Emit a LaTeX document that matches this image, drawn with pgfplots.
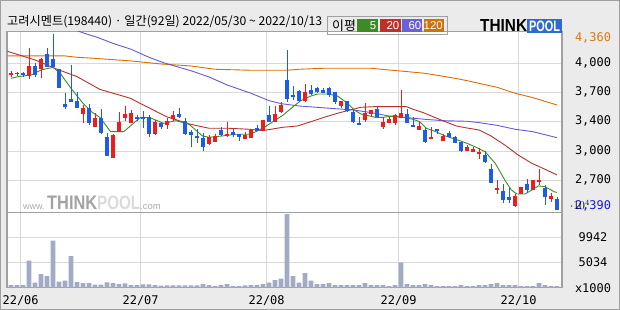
\documentclass[border=0pt]{standalone}
\usepackage{fontspec}
\usepackage{pgfplots}
\usepackage{pgfplotstable}
\pgfplotsset{compat=1.18}
\setmainfont{Noto Sans CJK KR}
\newfontfamily\krfont{Noto Sans CJK KR}
\newfontfamily\numfont{DejaVu Sans Mono}
\newfontfamily\logofont{Liberation Sans}

\definecolor{bgc}{HTML}{EBEBEB}
\definecolor{bordc}{HTML}{A0A0A0}
\definecolor{gridc}{HTML}{D9D9D9}
\definecolor{upc}{HTML}{EE1C1C}
\definecolor{dnc}{HTML}{1F5CE6}
\definecolor{maA}{HTML}{3A8F1E}
\definecolor{maB}{HTML}{B8312F}
\definecolor{maC}{HTML}{6A5ACD}
\definecolor{maD}{HTML}{DB6E00}
\definecolor{volc}{HTML}{A3ABC4}
\definecolor{labor}{HTML}{D9781A}
\definecolor{labbl}{HTML}{1A1ADC}
\definecolor{logoblue}{HTML}{2D6BD0}
\definecolor{lgA}{HTML}{3C8A28}
\definecolor{lgB}{HTML}{C0302A}
\definecolor{lgC}{HTML}{6A60D8}
\definecolor{lgD}{HTML}{D2700A}

\pgfplotstableread{
i o h l c
0 3899 3943 3884 3928
3 3895 4200 3861 4003
5 3973 4092 3873 4077
12 3463 3567 3363 3538
14 3325 3474 3325 3426
17 2972 3243 2972 3232
18 3266 3485 3266 3374
19 3418 3556 3392 3467
20 3363 3511 3363 3474
24 3243 3400 3236 3377
26 3344 3418 3299 3392
27 3407 3504 3392 3456
33 3128 3228 3121 3206
34 3158 3243 3158 3221
36 3221 3377 3214 3243
39 3191 3266 3191 3228
40 3202 3288 3202 3288
42 3281 3400 3281 3400
44 3381 3556 3381 3467
45 3493 3605 3482 3567
49 3616 3802 3605 3712
55 3556 3612 3530 3612
59 3400 3586 3381 3474
60 3467 3511 3429 3511
62 3318 3429 3299 3374
63 3370 3437 3370 3411
64 3370 3467 3344 3456
65 3418 3735 3418 3478
68 3288 3381 3288 3333
70 3191 3325 3191 3210
72 3169 3243 3169 3221
76 3057 3121 3057 3102
77 3046 3102 3046 3072
78 3024 3083 2968 3046
81 2625 2730 2577 2640
84 2439 2573 2432 2555
85 2573 2655 2573 2655
87 2618 2730 2618 2730
88 2707 2856 2670 2730
90 2514 2581 2488 2555
}\upT

\pgfplotstableread{
i o h l c
1 3928 3940 3891 3910
2 3921 3936 3876 3902
4 4003 4033 3884 3906
6 4137 4204 3988 3995
7 4081 4360 3988 3995
8 3966 3966 3761 3761
9 3578 3698 3526 3549
10 3634 4014 3597 3597
11 3612 3712 3538 3538
13 3530 3578 3340 3370
15 3418 3523 3243 3251
16 3206 3251 2998 2998
21 3433 3456 3392 3418
22 3433 3500 3310 3418
23 3433 3456 3214 3243
25 3370 3381 3303 3325
28 3463 3538 3418 3429
29 3392 3418 3236 3247
30 3269 3288 3102 3232
31 3221 3296 3147 3202
32 3202 3251 3057 3102
35 3288 3325 3221 3232
37 3266 3296 3214 3229
38 3243 3243 3169 3214
41 3310 3344 3281 3281
43 3456 3556 3381 3381
46 3847 4182 3605 3638
47 3679 3780 3623 3660
48 3724 3735 3605 3612
50 3735 3791 3679 3690
51 3757 3772 3705 3712
52 3735 3753 3698 3705
53 3757 3772 3660 3679
54 3712 3712 3578 3605
56 3612 3612 3493 3500
57 3493 3511 3370 3377
58 3370 3437 3340 3340
61 3526 3549 3429 3429
66 3467 3523 3370 3370
67 3344 3429 3325 3325
69 3288 3307 3147 3158
71 3292 3303 3243 3284
73 3251 3277 3214 3214
74 3210 3221 3139 3147
75 3154 3154 3046 3057
79 3009 3054 2923 2931
80 2853 2905 2700 2700
82 2607 2685 2469 2506
83 2536 2637 2469 2506
86 2685 2737 2581 2618
89 2640 2677 2454 2543
91 2517 2543 2390 2395
}\dnT

\pgfplotstableread{
i v
0 524
1 524
2 524
3 5300
4 981
5 2683
6 2290
7 9226
8 1178
9 1374
10 6216
11 1112
12 916
13 916
14 589
15 589
16 1047
17 916
18 720
19 850
20 524
21 524
22 654
23 654
24 524
25 393
26 458
27 458
28 458
29 458
30 458
31 458
32 720
33 524
34 327
35 524
36 720
37 327
38 327
39 458
40 524
41 524
42 720
43 981
44 1505
45 1767
46 14466
47 2290
48 981
49 2879
50 1374
51 720
52 720
53 916
54 524
55 524
56 524
57 524
58 524
59 916
60 524
61 524
62 524
63 327
64 524
65 4908
66 720
67 524
68 524
69 720
70 524
71 327
72 327
73 327
74 327
75 524
76 327
77 327
78 524
79 524
80 720
81 916
82 524
83 524
84 524
85 327
86 327
87 327
88 916
89 524
90 327
91 327
}\volT

\pgfplotsset{
  chartbase/.style={
    scale only axis, width=555bp,
    xmin=-0.667, xmax=91.833,
    axis background/.style={fill=white},
    axis line style={bordc, line width=1.2bp},
    grid style={gridc, line width=0.9bp},
    major tick length=0pt,
    xmajorgrids, ymajorgrids,
    xtick={1.6,21.6,42.6,64.6,84.6},
    yticklabel pos=right,
    tick label style={font=\numfont\fontsize{12}{12}\selectfont},
    yticklabel style={anchor=center, xshift=31bp},
    clip mode=individual,
  },
  wick/.style={draw=none, mark=none, forget plot,
    error bars/.cd, y dir=both, y explicit, error mark=none,
    error bar style={draw=#1, line width=1bp}},
  body/.style={draw=none, mark=none, forget plot,
    error bars/.cd, y dir=both, y explicit, error mark=none,
    error bar style={draw=#1, line width=4.6bp}},
}

\begin{document}
\begin{tikzpicture}
\useasboundingbox (0,0) rectangle (620bp,310bp);
\fill[bgc] (0,0) rectangle (620bp,310bp);
\draw[bordc, line width=1bp] (0.5bp,0.5bp) rectangle (619.5bp,309.5bp);

% price panel
\begin{axis}[chartbase,
  at={(7bp,97.7bp)}, anchor=south west, height=180.6bp,
  ymin=2368.4, ymax=4385.7,
  xticklabels={},
  ytick={2729.2,3053.1,3388.2,3708.8,4032.7},
  yticklabels={{2,700},{3,000},{3,400},{3,700},{4,000}},
  extra y ticks={2442,4312},
  extra y tick labels={{\textcolor{labbl}{2,390}},{\textcolor{labor}{4,360}}},
  extra y tick style={grid=none},
]
\addplot[maD, line width=0.9bp] coordinates {(-0.6,4115)(9,4115)(11,4100)(14,4088)(20,4059)(25,4025)(30,4003)(34,3966)(40,3955)(46,3955)(48,3966)(52,3977)(60,3977)(63,3958)(66,3940)(69,3921)(71,3899)(74,3865)(76,3839)(78,3809)(81,3765)(84,3698)(87,3649)(91,3567)};
\addplot[maC, line width=0.9bp] coordinates {(10,4420)(12.6,4360)(14.3,4325)(17,4255)(20,4190)(23,4100)(25.4,4040)(28,3988)(30,3950)(33,3880)(36,3791)(40,3698)(43,3616)(45,3582)(48,3556)(51,3541)(54,3526)(57,3512)(60,3482)(63,3444)(66,3426)(69,3407)(72,3392)(76,3385)(78,3370)(81,3340)(84,3296)(87,3269)(91,3202)};
\addplot[maB, line width=0.9bp] coordinates {(-0.6,4167)(4,4070)(7.7,3966)(11,3884)(14.8,3742)(19.9,3642)(21.5,3586)(25.9,3437)(29.7,3355)(33,3307)(36.3,3307)(39.7,3296)(42,3281)(45.3,3318)(47.8,3333)(50,3381)(52.2,3430)(54.4,3474)(56.1,3504)(58.3,3541)(60.7,3549)(65.9,3549)(67,3519)(68.7,3482)(71.4,3407)(74.2,3333)(76,3310)(78,3288)(80,3221)(82.3,3120)(84.5,3009)(86.8,2916)(89,2849)(91,2786)};
\addplot[maA, line width=0.9bp] coordinates {(0,3865)(1.2,3884)(3.4,3902)(5,3958)(7,3988)(8.2,3921)(10,3753)(12,3586)(13.4,3493)(14.8,3429)(16.6,3269)(18.8,3269)(20.4,3362)(21.6,3429)(23.3,3422)(25.4,3362)(27.5,3392)(29.7,3351)(31.9,3221)(33,3206)(35.2,3221)(37.4,3240)(39.7,3240)(40.8,3269)(42.4,3325)(44.1,3400)(45.3,3452)(46.7,3530)(48.3,3616)(50,3668)(51.1,3690)(52.8,3690)(54.4,3668)(56.1,3586)(57.2,3511)(58.3,3467)(60.7,3429)(62,3429)(63.7,3444)(65.3,3429)(67,3407)(68.1,3381)(69.2,3307)(70.8,3269)(72.4,3221)(74.1,3184)(76,3139)(77.3,3102)(79,3046)(80.7,2916)(82.3,2729)(83.4,2618)(84.3,2573)(85.7,2573)(86.8,2618)(87.9,2663)(89,2655)(90.5,2599)(91,2590)};
\addplot[wick=upc] table[x=i, y expr={(\thisrow{h}+\thisrow{l})/2}, y error expr={(\thisrow{h}-\thisrow{l})/2}] {\upT};
\addplot[body=upc] table[x=i, y expr={(\thisrow{o}+\thisrow{c})/2}, y error expr={max(abs(\thisrow{o}-\thisrow{c})/2,7)}] {\upT};
\addplot[wick=dnc] table[x=i, y expr={(\thisrow{h}+\thisrow{l})/2}, y error expr={(\thisrow{h}-\thisrow{l})/2}] {\dnT};
\addplot[body=dnc] table[x=i, y expr={(\thisrow{o}+\thisrow{c})/2}, y error expr={max(abs(\thisrow{o}-\thisrow{c})/2,7)}] {\dnT};
\end{axis}

% volume panel
\begin{axis}[chartbase,
  at={(7bp,22.3bp)}, anchor=south west, height=75.4bp,
  ymin=0, ymax=14800,
  xticklabels={22/06,22/07,22/08,22/09,22/10},
  xticklabel style={anchor=center, yshift=-12.5bp},
  ytick={5034,9942},
  yticklabels={5034,9942},
  extra y ticks={0},
  extra y tick labels={x1000},
  extra y tick style={grid=none},
]
\addplot[ybar, bar width=4.8bp, fill=volc, draw=none] table[x=i, y=v] {\volT};
\end{axis}

% header
\node[anchor=west, inner sep=0pt] at (7bp,288bp)
  {\resizebox{315bp}{!}{\krfont 고려시멘트(198440) · 일간(92일) 2022/05/30 \textasciitilde{} 2022/10/13}};
\draw[bordc, line width=1bp] (327bp,275.2bp) rectangle (447bp,293.4bp);
\node[anchor=center, inner sep=0pt] at (344bp,284.5bp) {\krfont\fontsize{13}{13}\selectfont 이평};
\fill[lgA] (357bp,278.4bp) rectangle (378bp,291.4bp);
\fill[lgB] (379.5bp,278.4bp) rectangle (400.5bp,291.4bp);
\fill[lgC] (402bp,278.4bp) rectangle (422bp,291.4bp);
\fill[lgD] (423.5bp,278.4bp) rectangle (443.5bp,291.4bp);
\node[anchor=east, inner sep=0pt, text=white] at (376.5bp,284.6bp) {\logofont\fontsize{11.5}{12}\selectfont 5};
\node[anchor=east, inner sep=0pt, text=white] at (399.5bp,284.6bp) {\logofont\fontsize{11.5}{12}\selectfont 20};
\node[anchor=east, inner sep=0pt, text=white] at (421.5bp,284.6bp) {\logofont\fontsize{11.5}{12}\selectfont 60};
\node[anchor=east, inner sep=0pt, text=white] at (443bp,284.6bp) {\logofont\fontsize{11.5}{12}\selectfont 120};
% logo
\node[anchor=west, inner sep=0pt] at (480bp,284bp) {\resizebox{47bp}{12bp}{\logofont\bfseries THINK}};
\fill[logoblue] (527bp,277bp) rectangle (562bp,291bp);
\node[anchor=center, inner sep=0pt, text=white] at (544.5bp,284bp) {\resizebox{31bp}{10.5bp}{\logofont\bfseries POOL}};
% watermark
\node[anchor=base west, inner sep=0pt, text=black!32] at (23bp,100bp) {\logofont\fontsize{9}{9}\selectfont www.};
\node[anchor=base west, inner sep=0pt, text=black!36] at (47bp,100bp) {\resizebox{50bp}{13.5bp}{\logofont\bfseries THINK}};
\node[anchor=base west, inner sep=0pt, text=black!14] at (97bp,100bp) {\resizebox{43bp}{13.5bp}{\logofont\bfseries POOL}};
\node[anchor=base west, inner sep=0pt, text=black!32] at (140bp,100bp) {\logofont\fontsize{9.5}{9.5}\selectfont .com};
\end{tikzpicture}
\end{document}
